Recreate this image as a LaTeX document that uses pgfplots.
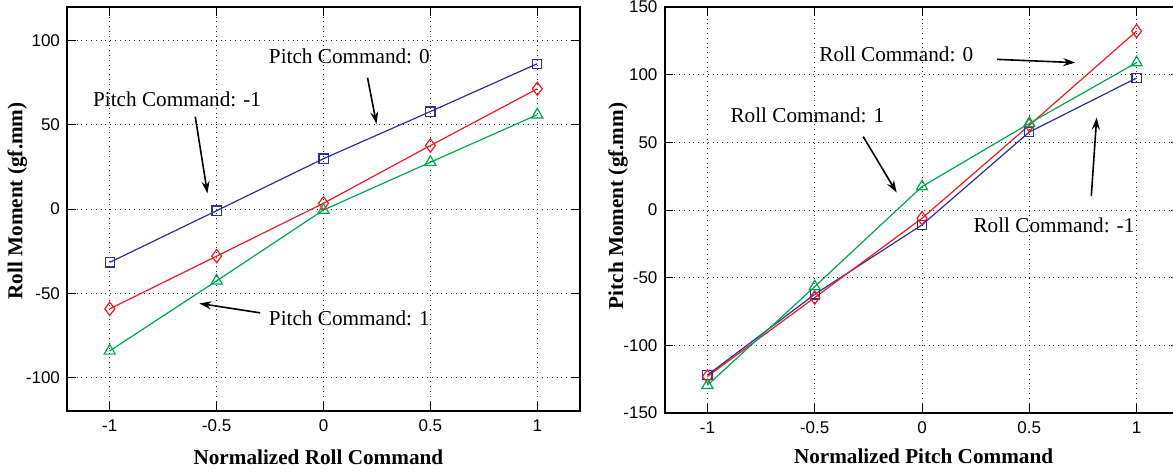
\documentclass[border=0pt]{standalone}
\usepackage{fontspec}
\setmainfont{Liberation Serif}
\newfontfamily\ticksf{Liberation Sans}
\usepackage{pgfplots}
\pgfplotsset{compat=1.18}
\usetikzlibrary{arrows.meta}
\definecolor{mblue}{RGB}{46,49,146}
\definecolor{mred}{RGB}{237,28,36}
\definecolor{mgreen}{RGB}{0,166,81}
\pgfplotsset{mystyle/.style={
  scale only axis, xmin=-1.2, xmax=1.2,
  xtick={-1,-0.5,0,0.5,1}, xticklabels={-1,-0.5,0,0.5,1},
  grid=major, major grid style={dotted, black!85, line width=0.5pt},
  axis line style={line width=1pt},
  tick style={black, line width=0.5pt},
  ticklabel style={font=\ticksf\fontsize{8.5}{10}\selectfont},
  x tick label style={yshift=-1pt},
  label style={font=\bfseries\fontsize{10.6}{12}\selectfont},
  every axis plot/.append style={line width=0.6pt, mark options={solid, line width=0.6pt}},
  clip=false,
}}
\tikzset{ann/.style={font=\fontsize{10.6}{12}\selectfont, inner sep=0pt},
  arr/.style={-{Stealth[length=6pt,width=4pt]}, line width=0.8pt, black}}
\begin{document}
\begin{tikzpicture}
\useasboundingbox (0,0) rectangle (586.5pt,236pt);
\begin{axis}[mystyle, at={(33.5pt,30.5pt)}, anchor=south west,
  width=256.5pt, height=202pt, ymin=-120, ymax=120,
  ytick={-100,-50,0,50,100}, yticklabels={-100,-50,0,50,100},
  xlabel={Normalized Roll Command}, ylabel={Roll Moment (gf.mm)},
  x label style={at={(axis description cs:0.49,-0.114)}, anchor=center},
  y label style={at={(axis description cs:-0.097,0.52)}, anchor=center}]
\addplot[color=mblue, mark=square, mark size=2.3pt] coordinates {(-1,-31.7)(-0.5,-1)(0,29.9)(0.5,57.9)(1,86.3)};
\addplot[color=mred, mark=diamond, mark size=3.3pt] coordinates {(-1,-59.3)(-0.5,-28)(0,3.4)(0.5,37.7)(1,71.4)};
\addplot[color=mgreen, mark=triangle, mark size=3.2pt] coordinates {(-1,-84.3)(-0.5,-42.7)(0,-0.6)(0.5,27.8)(1,56)};
\node[ann] at (axis cs:0.121,91) {Pitch Command: 0};
\draw[arr] (axis cs:0.206,78) -- (axis cs:0.248,50.6);
\node[ann] at (axis cs:-0.685,64.9) {Pitch Command: -1};
\draw[arr] (axis cs:-0.60,54.9) -- (axis cs:-0.543,9.3);
\node[ann] at (axis cs:0.121,-64.9) {Pitch Command: 1};
\draw[arr] (axis cs:-0.296,-61.7) -- (axis cs:-0.581,-56.1);
\end{axis}
\begin{axis}[mystyle, at={(332.25pt,29.5pt)}, anchor=south west,
  width=257.5pt, height=203pt, ymin=-150, ymax=150,
  ytick={-150,-100,-50,0,50,100,150}, yticklabels={-150,-100,-50,0,50,100,150},
  xlabel={Normalized Pitch Command}, ylabel={Pitch Moment (gf.mm)},
  x label style={at={(axis description cs:0.503,-0.1076)}, anchor=center},
  y label style={at={(axis description cs:-0.0903,0.51)}, anchor=center}]
\addplot[color=mblue, mark=square, mark size=2.3pt] coordinates {(-1,-122)(-0.5,-62.3)(0,-11)(0.5,57.6)(1,97.5)};
\addplot[color=mred, mark=diamond, mark size=3.3pt] coordinates {(-1,-123)(-0.5,-64.7)(0,-6.1)(0.5,62.6)(1,132.2)};
\addplot[color=mgreen, mark=triangle, mark size=3.2pt] coordinates {(-1,-129.5)(-0.5,-56.6)(0,17.3)(0.5,64)(1,108.9)};
\node[ann] at (axis cs:-0.12,115) {Roll Command: 0};
\draw[arr] (axis cs:0.35,111.3) -- (axis cs:0.714,108.9);
\node[ann] at (axis cs:-0.534,69.9) {Roll Command: 1};
\draw[arr] (axis cs:-0.274,54.2) -- (axis cs:-0.118,12.9);
\node[ann] at (axis cs:0.615,-11.3) {Roll Command: -1};
\draw[arr] (axis cs:0.789,10.3) -- (axis cs:0.814,68.3);
\end{axis}
\end{tikzpicture}
\end{document}
